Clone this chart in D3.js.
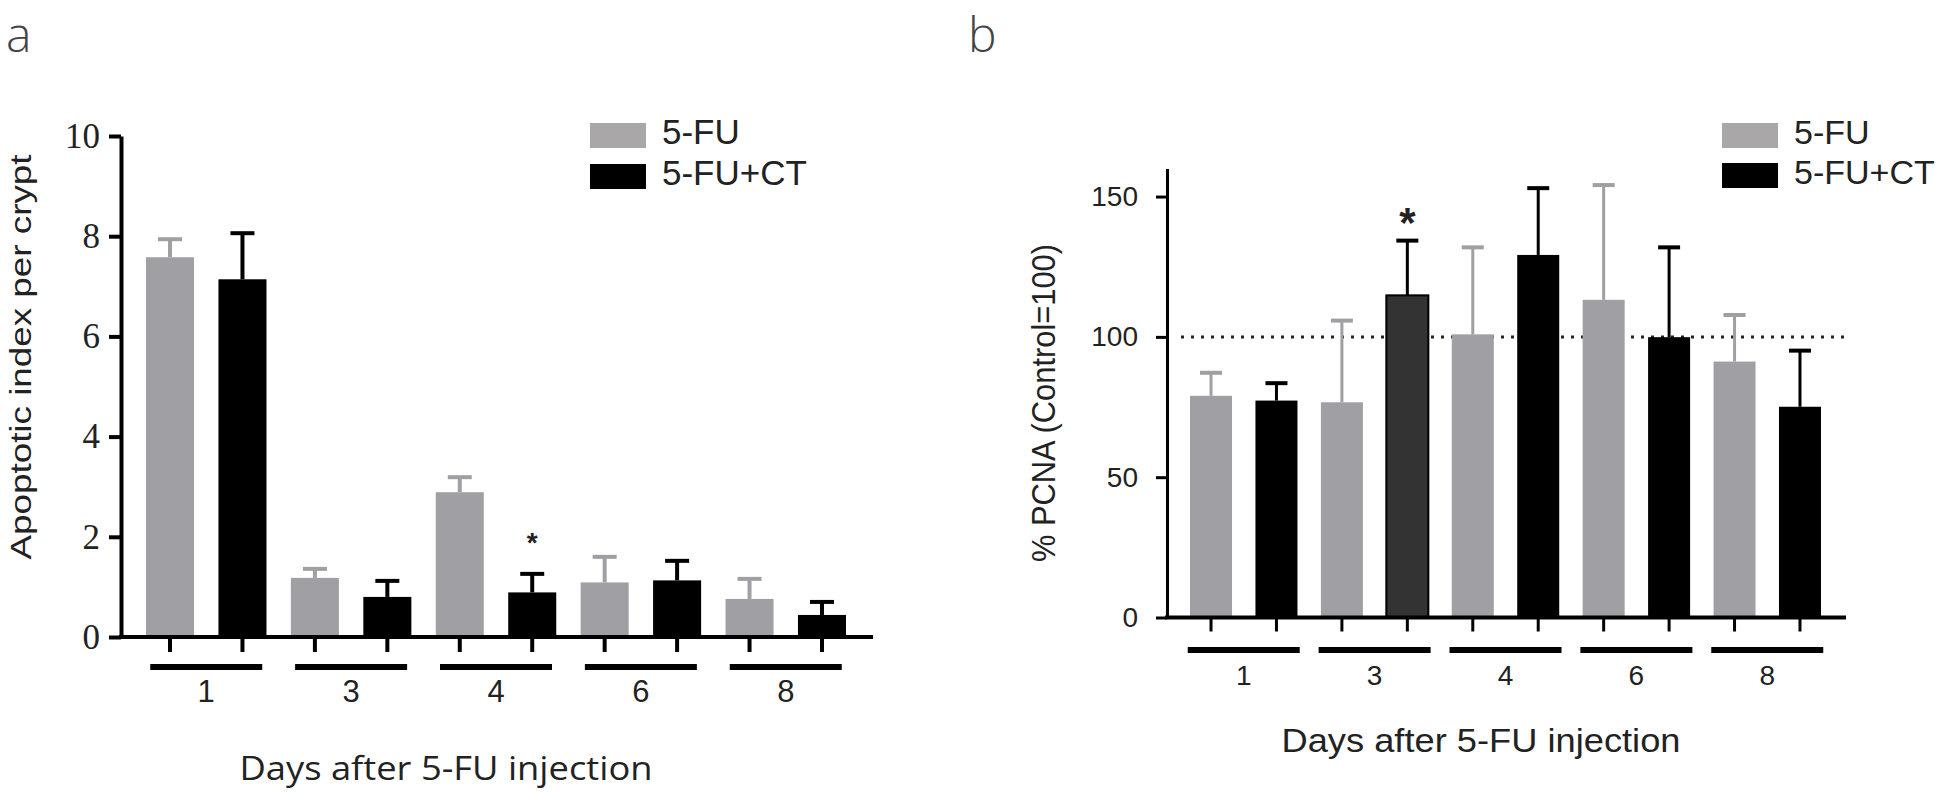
<!DOCTYPE html>
<html>
<head>
<meta charset="utf-8">
<script src="https://cdn.jsdelivr.net/npm/d3@7"></script>
<style>
  body { margin: 0; background: white; }
</style>
</head>
<body>
<svg id="fig"></svg>
<script>
//data
const days = ["1", "3", "4", "6", "8"]
const seriesNames = ["5-FU", "5-FU+CT"]

//panel a, apoptotic index (mean and error)
const apo5FU = [7.58, 1.18, 2.89, 1.09, 0.76]
const apo5FUErr = [0.36, 0.18, 0.30, 0.51, 0.40]
const apoCT = [7.14, 0.80, 0.89, 1.13, 0.44]
const apoCTErr = [0.92, 0.32, 0.37, 0.39, 0.26]
const apoTicks = [0, 2, 4, 6, 8, 10]
const apoSig = ["4"]

//panel b, % PCNA (mean and error)
const pcna5FU = [79.0, 76.7, 100.9, 113.2, 91.2]
const pcna5FUErr = [8.2, 29.1, 31.0, 40.9, 16.6]
const pcnaCT = [77.3, 114.8, 129.2, 99.9, 75.1]
const pcnaCTErr = [6.2, 19.5, 23.8, 32.0, 20.0]
const pcnaTicks = [0, 50, 100, 150]
const pcnaSig = ["3"]
const pcnaControl = 100

const gray = "#a09fa4"
const legendGray = "#a9a7a7"

const fig = d3.select("svg#fig")
              .attr("width", 1944)
              .attr("height", 792)

function rows(m1, e1, m2, e2) {
    const out = []
    days.forEach((d, i) => {
        out.push({day: d, s: 0, key: d + "|0", v: m1[i], e: e1[i]})
        out.push({day: d, s: 1, key: d + "|1", v: m2[i], e: e2[i]})
    })
    return out
}

function drawPanel(o) {
    const g = fig.append("g")
    const data = rows(o.m1, o.e1, o.m2, o.e2)

    const x = d3.scaleBand()
                .domain(data.map(d => d.key))
                .range(o.xRange)
                .paddingInner(o.pad)
                .paddingOuter(o.pad / 2)
    const y = d3.scaleLinear()
                .domain(o.yDomain)
                .range(o.yRange)
    const cx = d => x(d.key) + x.bandwidth() / 2

    //control line
    if (o.control != null) {
        g.append("line")
         .attr("x1", o.axisX + 14)
         .attr("x2", o.axisEnd)
         .attr("y1", y(o.control))
         .attr("y2", y(o.control))
         .attr("stroke", "#222")
         .attr("stroke-width", 3)
         .attr("stroke-dasharray", "3,7")
    }

    //error bars
    const eb = g.selectAll(".eb").data(data).enter().append("g")
    eb.append("line")
      .attr("x1", cx).attr("x2", cx)
      .attr("y1", d => y(d.v))
      .attr("y2", d => y(d.v + d.e))
      .attr("stroke", d => d.s == 0 ? gray : "black")
      .attr("stroke-width", o.stem)
    eb.append("line")
      .attr("x1", d => cx(d) - o.cap / 2)
      .attr("x2", d => cx(d) + o.cap / 2)
      .attr("y1", d => y(d.v + d.e))
      .attr("y2", d => y(d.v + d.e))
      .attr("stroke", d => d.s == 0 ? gray : "black")
      .attr("stroke-width", 4)

    //bars
    g.selectAll(".bar").data(data).enter().append("rect")
     .attr("x", d => x(d.key))
     .attr("width", x.bandwidth())
     .attr("y", d => y(d.v))
     .attr("height", d => y(0) - y(d.v))
     .attr("fill", d => d.s == 0 ? gray : (o.darkSig && o.sig.includes(d.day) ? "#333" : "black"))
     .attr("stroke", d => d.s == 1 && o.darkSig && o.sig.includes(d.day) ? "black" : "none")
     .attr("stroke-width", 2)

    //significance stars
    g.selectAll(".star").data(data.filter(d => d.s == 1 && o.sig.includes(d.day))).enter()
     .append("text")
     .attr("x", cx)
     .attr("y", d => y(d.v + d.e) - o.starGap)
     .attr("text-anchor", "middle")
     .attr("font-family", "Liberation Sans, Arial, sans-serif")
     .attr("font-weight", "bold")
     .attr("font-size", o.starSize)
     .attr("fill", "#222")
     .text("*")

    //x axis line
    g.append("line")
     .attr("x1", o.axisX - 2)
     .attr("x2", o.axisEnd)
     .attr("y1", y(0))
     .attr("y2", y(0))
     .attr("stroke", "black")
     .attr("stroke-width", 4)

    //x ticks under each bar
    const xa = g.append("g")
                .attr("transform", `translate(0,${y(0)})`)
                .call(d3.axisBottom(x).tickSize(o.xTick).tickFormat(""))
    xa.select(".domain").remove()
    xa.selectAll("line").attr("stroke", "black").attr("stroke-width", o.stem)

    //y axis
    const ya = g.append("g")
                .attr("transform", `translate(${o.axisX},0)`)
                .call(d3.axisLeft(y).tickValues(o.ticks).tickSize(o.yTick).tickSizeOuter(0).tickPadding(o.yPad))
    ya.select(".domain").attr("stroke", "black").attr("stroke-width", o.yAxisW)
    ya.selectAll("line").attr("stroke", "black").attr("stroke-width", o.yAxisW)
    ya.selectAll("text")
      .attr("font-family", o.tickFont)
      .attr("font-size", o.tickSize)
      .attr("fill", "#222")

    //day group lines and labels
    days.forEach(d => {
        const mid = (x(d + "|0") + x(d + "|1") + x.bandwidth()) / 2
        g.append("line")
         .attr("x1", mid - o.groupHalf)
         .attr("x2", mid + o.groupHalf)
         .attr("y1", o.groupY)
         .attr("y2", o.groupY)
         .attr("stroke", "black")
         .attr("stroke-width", 6)
        g.append("text")
         .attr("x", mid)
         .attr("y", o.dayY)
         .attr("text-anchor", "middle")
         .attr("font-family", "Liberation Sans, Arial, sans-serif")
         .attr("font-size", o.daySize)
         .attr("fill", "#222")
         .text(d)
    })

    //legend
    seriesNames.forEach((s, i) => {
        g.append("rect")
         .attr("x", o.legX)
         .attr("y", o.legY + i * o.legStep)
         .attr("width", 56)
         .attr("height", 25)
         .attr("fill", i == 0 ? legendGray : "black")
        g.append("text")
         .attr("x", o.legX + 72)
         .attr("y", o.legY + i * o.legStep + 21)
         .attr("font-family", "Liberation Sans, Arial, sans-serif")
         .attr("font-size", o.legSize)
         .attr("fill", "#222")
         .text(s)
    })

    //axis titles
    g.append("text")
     .attr("x", o.xTitleX)
     .attr("y", o.xTitleY)
     .attr("text-anchor", "middle")
     .attr("font-family", o.xTitleFont)
     .attr("font-size", o.xTitleSize)
     .attr("textLength", o.xTitleLen)
     .attr("lengthAdjust", "spacingAndGlyphs")
     .attr("fill", "#222")
     .text("Days after 5-FU injection")

    g.append("text")
     .attr("transform", `translate(${o.yTitleX},${o.yTitleY}) rotate(-90)`)
     .attr("text-anchor", "middle")
     .attr("font-family", "Liberation Sans, Arial, sans-serif")
     .attr("font-size", o.yTitleSize)
     .attr("textLength", o.yTitleLen)
     .attr("lengthAdjust", "spacingAndGlyphs")
     .attr("fill", "#222")
     .text(o.yTitle)

    //panel letter
    g.append("text")
     .attr("x", o.letterX)
     .attr("y", o.letterY)
     .attr("font-family", "Open Sans, Lato, sans-serif")
     .attr("font-weight", 300)
     .attr("font-size", 48)
     .attr("fill", "#444")
     .text(o.letter)
}

//panel a
drawPanel({
    m1: apo5FU, e1: apo5FUErr, m2: apoCT, e2: apoCTErr,
    ticks: apoTicks, sig: apoSig, darkSig: false, control: null,
    xRange: [133.8, 858.2], pad: 0.337,
    yDomain: [0, 10], yRange: [637, 136],
    axisX: 121, axisEnd: 873, stem: 4, cap: 24,
    xTick: 15, yTick: 12, yPad: 9, yAxisW: 4,
    tickFont: "Liberation Serif, Times New Roman, serif", tickSize: 35,
    starGap: 22, starSize: 28,
    groupHalf: 56, groupY: 667, dayY: 702, daySize: 31,
    legX: 590, legY: 123, legStep: 41, legSize: 35,
    xTitleX: 446, xTitleY: 780, xTitleFont: "Open Sans, Lato, sans-serif", xTitleSize: 32, xTitleLen: 413,
    yTitleX: 31, yTitleY: 357, yTitleSize: 30, yTitleLen: 405, yTitle: "Apoptotic index per crypt",
    letter: "a", letterX: 6, letterY: 52
})

//panel b
drawPanel({
    m1: pcna5FU, e1: pcna5FUErr, m2: pcnaCT, e2: pcnaCTErr,
    ticks: pcnaTicks, sig: pcnaSig, darkSig: true, control: pcnaControl,
    xRange: [1178.3, 1832.7], pad: 0.358,
    yDomain: [0, 160], yRange: [617.5, 168.5],
    axisX: 1167, axisEnd: 1846, stem: 3, cap: 22,
    xTick: 14, yTick: 11, yPad: 18, yAxisW: 3,
    tickFont: "Liberation Sans, Arial, sans-serif", tickSize: 28,
    starGap: 4, starSize: 42,
    groupHalf: 56, groupY: 650, dayY: 685, daySize: 28,
    legX: 1722, legY: 123, legStep: 40, legSize: 34,
    xTitleX: 1481, xTitleY: 752, xTitleFont: "Liberation Sans, Arial, sans-serif", xTitleSize: 33, xTitleLen: 399,
    yTitleX: 1055, yTitleY: 403, yTitleSize: 34, yTitleLen: 318, yTitle: "% PCNA (Control=100)",
    letter: "b", letterX: 968, letterY: 52
})
</script>
</body>
</html>
